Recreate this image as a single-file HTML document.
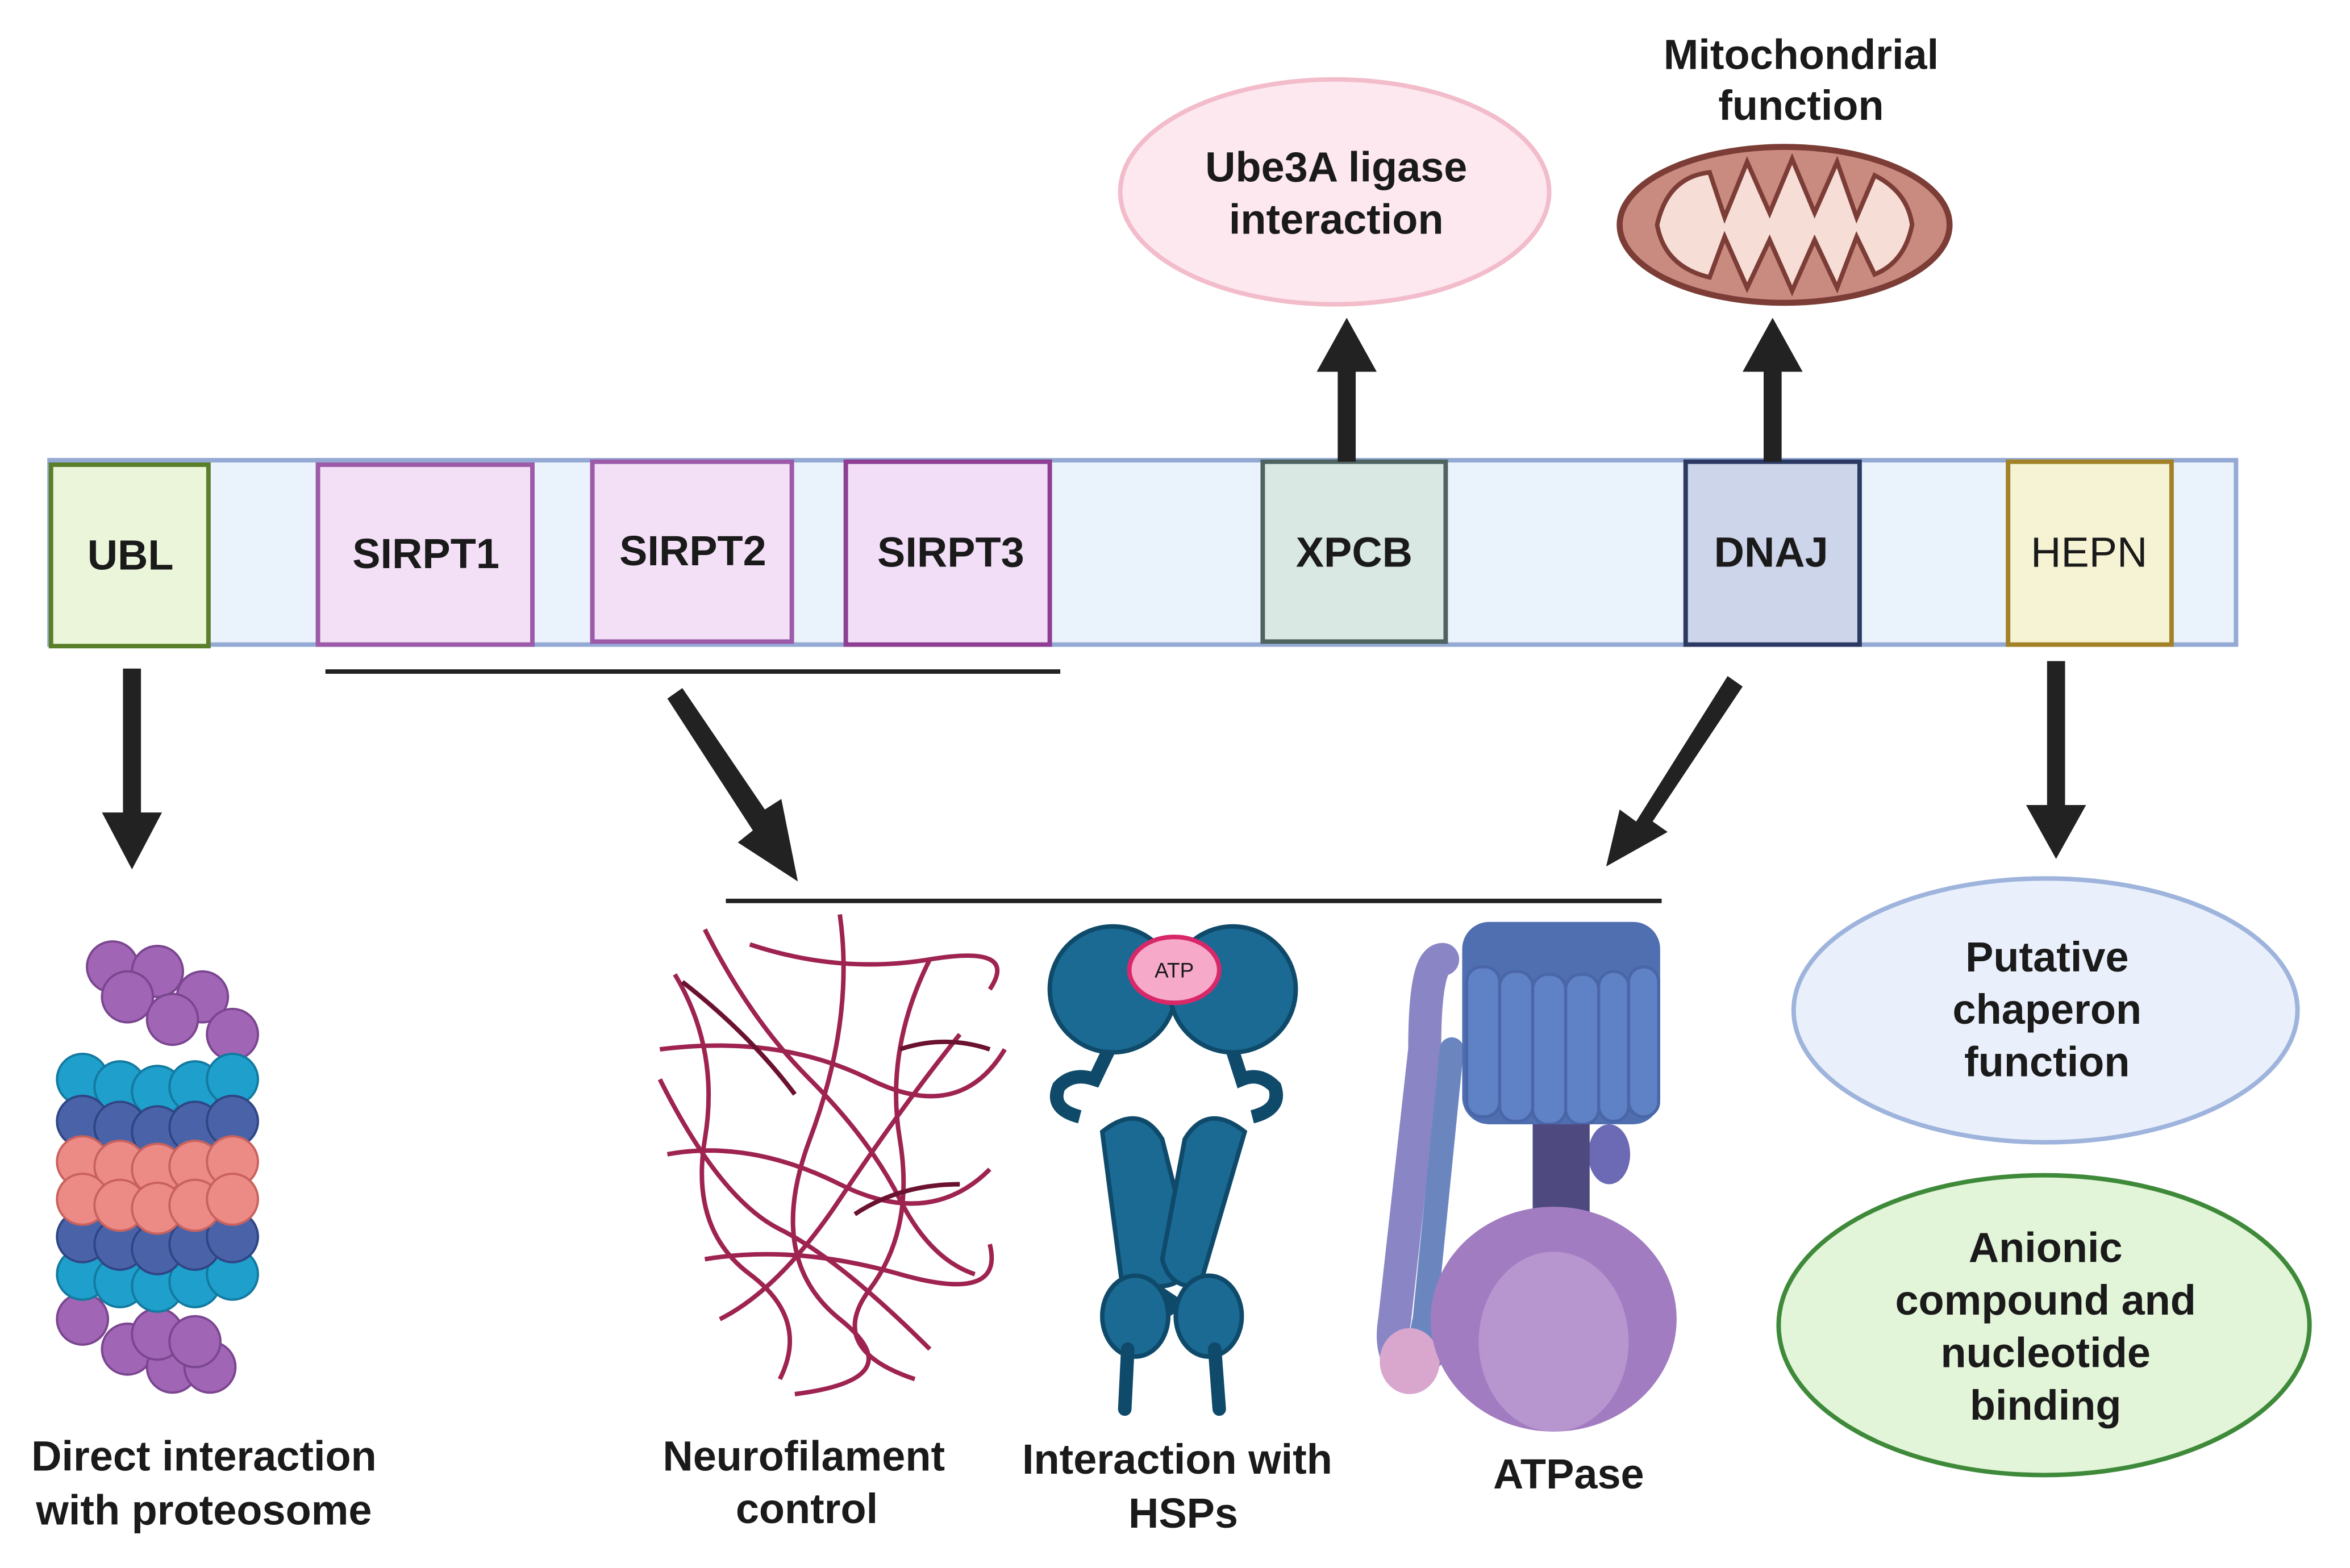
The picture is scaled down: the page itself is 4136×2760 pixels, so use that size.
<!DOCTYPE html>
<html><head><meta charset="utf-8"><style>
html,body{margin:0;padding:0;background:#fff}
svg{display:block}
text{font-family:"Liberation Sans",Arial,sans-serif;font-weight:bold;fill:#1a1a1a}
</style></head><body>
<svg width="4136" height="2760" viewBox="0 0 1567 1046" preserveAspectRatio="none" xmlns="http://www.w3.org/2000/svg">
<rect width="1567" height="1046" fill="#fff"/>
<rect x="33" y="307" width="1458" height="123" fill="#eaf2fb" stroke="#94aad4" stroke-width="3"/>
<rect x="34" y="310" width="105" height="121" fill="#eaf5d9" stroke="#5a7f2a" stroke-width="3"/>
<rect x="212" y="310" width="143" height="120" fill="#f3e0f7" stroke="#9c5aa8" stroke-width="3"/>
<rect x="395" y="308" width="133" height="120" fill="#f3e0f7" stroke="#9c5aa8" stroke-width="3"/>
<rect x="564" y="308" width="136" height="122" fill="#f2dff7" stroke="#8e3f94" stroke-width="3"/>
<rect x="842" y="308" width="122" height="120" fill="#d9e8e3" stroke="#4f6460" stroke-width="3"/>
<rect x="1124" y="308" width="116" height="122" fill="#cdd5ea" stroke="#2c3a63" stroke-width="3"/>
<rect x="1339" y="308" width="109" height="122" fill="#f5f3d3" stroke="#a28127" stroke-width="3"/>
<g font-size="28" text-anchor="middle">
<text x="87" y="380">UBL</text>
<text x="284" y="379">SIRPT1</text>
<text x="462" y="377">SIRPT2</text>
<text x="634" y="378">SIRPT3</text>
<text x="903" y="378">XPCB</text>
<text x="1181" y="378">DNAJ</text>
<text x="1393" y="378" style="font-weight:normal">HEPN</text>
</g>
<line x1="217" y1="448" x2="707" y2="448" stroke="#222" stroke-width="3"/>
<line x1="484" y1="601" x2="1108" y2="601" stroke="#222" stroke-width="3"/>
<g fill="#222" stroke="none">
<rect x="82" y="446" width="12" height="100"/><polygon points="68,542 108,542 88,580"/>
<rect x="1365" y="441" width="12" height="100"/><polygon points="1351,537 1391,537 1371,573"/>
<rect x="892" y="240" width="12" height="68"/><polygon points="878,248 918,248 898,212"/>
<rect x="1176" y="240" width="12" height="68"/><polygon points="1162,248 1202,248 1182,212"/>
<polygon points="445,466 455,459 510,540 521,533 532,588 492,562 502,554"/>
<polygon points="1152,451 1162,458 1102,548 1112,555 1071,578 1080,540 1091,548"/>
</g>
<ellipse cx="890" cy="128" rx="143" ry="75" fill="#fde8ef" stroke="#f2bccb" stroke-width="3"/>
<g font-size="28" text-anchor="middle">
<text x="891" y="121">Ube3A ligase</text>
<text x="891" y="156">interaction</text>
<text x="1201" y="46">Mitochondrial</text>
<text x="1201" y="80">function</text>
</g>
<ellipse cx="1190" cy="150" rx="110" ry="52" fill="#c98a80" stroke="#7b3d36" stroke-width="4"/>
<path d="M1105,150 Q1112,118 1140,115 L1150,145 L1165,108 L1180,142 L1195,106 L1210,142 L1225,108 L1238,145 L1250,117 Q1272,128 1275,150 Q1270,175 1250,183 L1238,158 L1225,192 L1210,160 L1195,194 L1180,160 L1165,192 L1150,158 L1140,185 Q1110,178 1105,150 Z" fill="#f6ddd6" stroke="#7b3d36" stroke-width="3"/>
<ellipse cx="1364" cy="674" rx="168" ry="88" fill="#eaf0fb" stroke="#9eb4dc" stroke-width="3"/>
<ellipse cx="1363" cy="884" rx="177" ry="100" fill="#e3f5d9" stroke="#3e8a3a" stroke-width="3"/>
<g font-size="28" text-anchor="middle">
<text x="1365" y="648">Putative</text>
<text x="1365" y="683">chaperon</text>
<text x="1365" y="718">function</text>
<text x="1364" y="842">Anionic</text>
<text x="1364" y="877">compound and</text>
<text x="1364" y="912">nucleotide</text>
<text x="1364" y="947">binding</text>
<text x="136" y="981">Direct interaction</text>
<text x="136" y="1017">with proteosome</text>
<text x="536" y="981">Neurofilament</text>
<text x="538" y="1016">control</text>
<text x="785" y="983">Interaction with</text>
<text x="789" y="1019">HSPs</text>
<text x="1046" y="993">ATPase</text>
</g>
<g stroke-width="1.5">
<g fill="#a066b5" stroke="#7b4590">
<circle cx="75" cy="645" r="17"/><circle cx="105" cy="648" r="17"/><circle cx="135" cy="665" r="17"/><circle cx="155" cy="690" r="17"/><circle cx="85" cy="665" r="17"/><circle cx="115" cy="680" r="17"/>
<circle cx="55" cy="880" r="17"/><circle cx="85" cy="900" r="17"/><circle cx="115" cy="912" r="17"/><circle cx="140" cy="912" r="17"/><circle cx="105" cy="890" r="17"/><circle cx="130" cy="895" r="17"/>
</g>
<g fill="#1f9fcb" stroke="#137aa0">
<circle cx="55" cy="720" r="17"/><circle cx="80" cy="725" r="17"/><circle cx="105" cy="728" r="17"/><circle cx="130" cy="725" r="17"/><circle cx="155" cy="720" r="17"/>
<circle cx="55" cy="850" r="17"/><circle cx="80" cy="855" r="17"/><circle cx="105" cy="858" r="17"/><circle cx="130" cy="855" r="17"/><circle cx="155" cy="850" r="17"/>
</g>
<g fill="#4a63a8" stroke="#2f4585">
<circle cx="55" cy="748" r="17"/><circle cx="80" cy="752" r="17"/><circle cx="105" cy="755" r="17"/><circle cx="130" cy="752" r="17"/><circle cx="155" cy="748" r="17"/>
<circle cx="55" cy="825" r="17"/><circle cx="80" cy="830" r="17"/><circle cx="105" cy="833" r="17"/><circle cx="130" cy="830" r="17"/><circle cx="155" cy="825" r="17"/>
</g>
<g fill="#ec8b86" stroke="#c9625e">
<circle cx="55" cy="775" r="17"/><circle cx="80" cy="778" r="17"/><circle cx="105" cy="780" r="17"/><circle cx="130" cy="778" r="17"/><circle cx="155" cy="775" r="17"/>
<circle cx="55" cy="800" r="17"/><circle cx="80" cy="804" r="17"/><circle cx="105" cy="806" r="17"/><circle cx="130" cy="804" r="17"/><circle cx="155" cy="800" r="17"/>
</g>
</g>
<g fill="none" stroke="#9e2350" stroke-width="3">
<path d="M450,650 Q480,700 470,760 T500,850 T520,920"/>
<path d="M470,620 Q500,680 540,720 T600,800 T650,850"/>
<path d="M440,700 Q520,690 580,720 T670,700"/>
<path d="M445,770 Q500,760 560,790 T660,780"/>
<path d="M470,840 Q530,830 600,850 T660,830"/>
<path d="M560,610 Q570,680 540,760 T560,880 T530,930"/>
<path d="M620,640 Q590,700 600,760 T580,860 T610,920"/>
<path d="M500,630 Q560,650 620,640 T660,660"/>
<path d="M440,720 Q480,800 520,820 T620,900"/>
<path d="M640,690 Q600,740 560,800 T480,880"/>
</g>
<g fill="none" stroke="#6b1230" stroke-width="3">
<path d="M455,655 Q500,690 530,730"/><path d="M570,810 Q600,790 640,790"/><path d="M600,700 Q630,690 660,700"/>
</g>
<g stroke="#0f4a6a" stroke-width="3" fill="#1a6a94">
<path d="M720,745 Q700,740 706,725 Q715,715 730,720 L742,695" fill="none" stroke="#0f4a6a" stroke-width="9"/>
<path d="M835,745 Q855,740 850,725 Q840,715 828,720 L820,695" fill="none" stroke="#0f4a6a" stroke-width="9"/>
<ellipse cx="742" cy="660" rx="42" ry="42"/>
<ellipse cx="822" cy="660" rx="42" ry="42"/>
<path d="M735,755 Q760,735 775,760 L795,840 Q790,860 768,858 L748,855 Z"/>
<path d="M830,755 Q805,735 790,760 L775,840 Q780,860 800,858 Z"/>
<line x1="770" y1="860" x2="800" y2="880" stroke-width="8"/><line x1="800" y1="860" x2="770" y2="880" stroke-width="8"/>
<ellipse cx="757" cy="878" rx="22" ry="27"/>
<ellipse cx="806" cy="878" rx="22" ry="27"/>
<line x1="752" y1="900" x2="750" y2="940" stroke-width="9" stroke-linecap="round"/>
<line x1="810" y1="900" x2="813" y2="940" stroke-width="9" stroke-linecap="round"/>
</g>
<ellipse cx="783" cy="647" rx="30" ry="22" fill="#f6a9c8" stroke="#d8286a" stroke-width="3"/>
<text x="783" y="652" font-size="14" text-anchor="middle" style="font-weight:normal">ATP</text>
<path d="M962,640 Q950,640 950,700 L930,880 Q925,910 945,915" fill="none" stroke="#8a86c6" stroke-width="22" stroke-linecap="round"/>
<path d="M968,700 L950,880 Q945,900 955,905" fill="none" stroke="#6b86bf" stroke-width="16" stroke-linecap="round"/>
<ellipse cx="940" cy="908" rx="20" ry="22" fill="#d9a6cd"/>
<rect x="975" y="615" width="132" height="135" rx="18" fill="#4f6fb0"/>
<g fill="#5e82c5" stroke="#4a66a8" stroke-width="2">
<rect x="978" y="645" width="22" height="100" rx="10"/><rect x="1000" y="648" width="22" height="100" rx="10"/><rect x="1022" y="650" width="22" height="100" rx="10"/><rect x="1044" y="650" width="22" height="100" rx="10"/><rect x="1066" y="648" width="20" height="100" rx="10"/><rect x="1086" y="645" width="20" height="100" rx="10"/>
</g>
<ellipse cx="1073" cy="770" rx="14" ry="20" fill="#6c6ab4"/>
<rect x="1022" y="750" width="38" height="110" fill="#4e4a80"/>
<ellipse cx="1036" cy="880" rx="82" ry="75" fill="#a27cc0"/>
<ellipse cx="1036" cy="895" rx="50" ry="60" fill="#b795cf"/>
</svg>
</body></html>
